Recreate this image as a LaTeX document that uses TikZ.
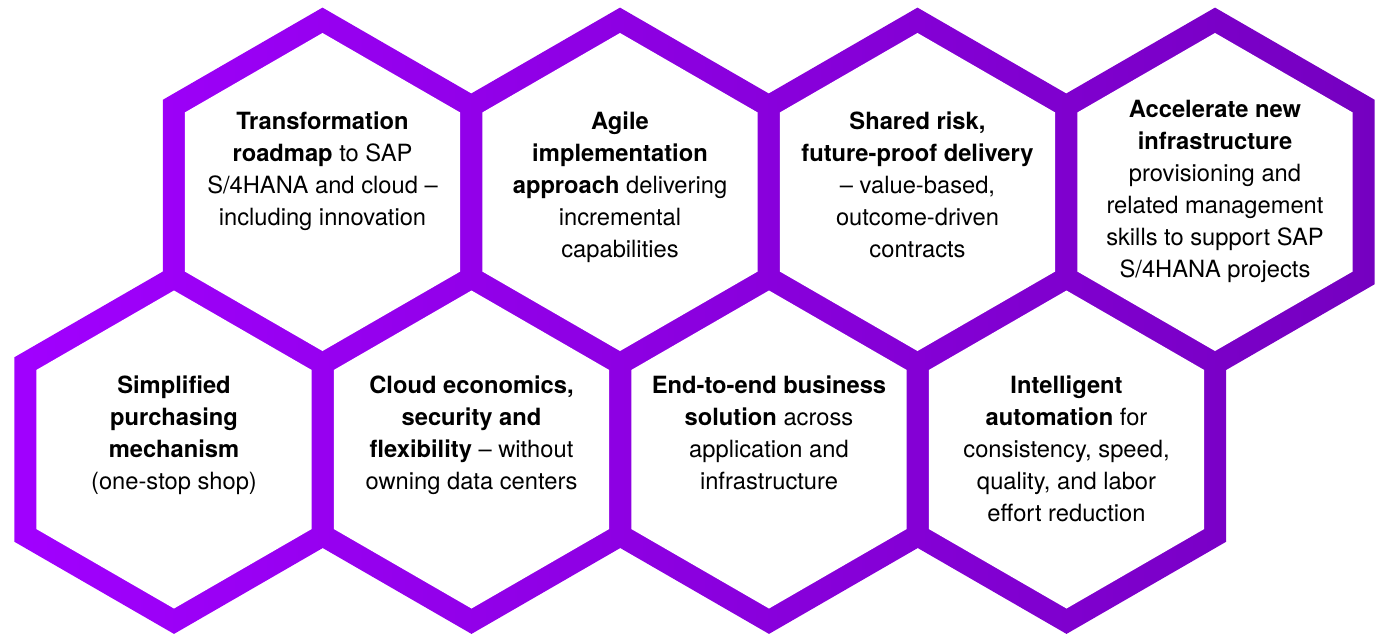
\documentclass[tikz,border=0pt]{standalone}
\usepackage{fontspec}
\setmainfont{TeX Gyre Heros}
\usepackage{xcolor}
\usepackage{tikz}
\definecolor{violetL}{HTML}{A100FF}
\definecolor{violetR}{HTML}{7500C0}
\tikzset{hextext/.style={anchor=north, inner sep=0pt, align=center, font=\fontsize{13.5}{18.2}\selectfont, execute at begin node=\strut}}

\begin{document}
\begin{tikzpicture}[x=0.02cm,y=-0.02cm]
     \useasboundingbox (0,0) rectangle (1379,633);
     \begin{scope}
     \clip foreach \cx/\cy in {322.5/192,620/192,917.5/192,1215/192,174/449.5,471.5/449.5,769/449.5,1066.5/449.5}
          {(\cx,\cy) +(30:184.4) -- +(90:184.4) -- +(150:184.4) -- +(210:184.4) -- +(270:184.4) -- +(330:184.4) -- cycle};
     \shade[left color=violetL, right color=violetR] (0,0) rectangle (1379,633);
     \end{scope}
     \foreach \cx/\cy in {322.5/192,620/192,917.5/192,1215/192,174/449.5,471.5/449.5,769/449.5,1066.5/449.5}
          \fill[white] (\cx,\cy) +(30:159) -- +(90:159) -- +(150:159) -- +(210:159) -- +(270:159) -- +(330:159) -- cycle;
     \node[hextext] (t1) at (322.5,111.5) {\textbf{Transformation}\\\textbf{roadmap} to SAP\\S/4HANA and cloud –\\including innovation};
     \node[hextext] (t2) at (620,111.5) {\textbf{Agile}\\\textbf{implementation}\\\textbf{approach} delivering\\incremental\\capabilities};
     \node[hextext] (t3) at (917.5,111.5) {\textbf{Shared risk,}\\\textbf{future-proof delivery}\\– value-based,\\outcome-driven\\contracts};
     \node[hextext] (t4) at (1215,99.5) {\textbf{Accelerate new}\\\textbf{infrastructure}\\provisioning and\\related management\\skills to support SAP\\S/4HANA projects};
     \node[hextext] (b1) at (174,375.5) {\textbf{Simplified}\\\textbf{purchasing}\\\textbf{mechanism}\\(one-stop shop)};
     \node[hextext] (b2) at (471.5,375.5) {\textbf{Cloud economics,}\\\textbf{security and}\\\textbf{flexibility} – without\\owning data centers};
     \node[hextext] (b3) at (769,375.5) {\textbf{End-to-end business}\\\textbf{solution} across\\application and\\infrastructure};
     \node[hextext] (b4) at (1066.5,375.5) {\textbf{Intelligent}\\\textbf{automation} for\\consistency, speed,\\quality, and labor\\effort reduction};
\end{tikzpicture}
\end{document}
